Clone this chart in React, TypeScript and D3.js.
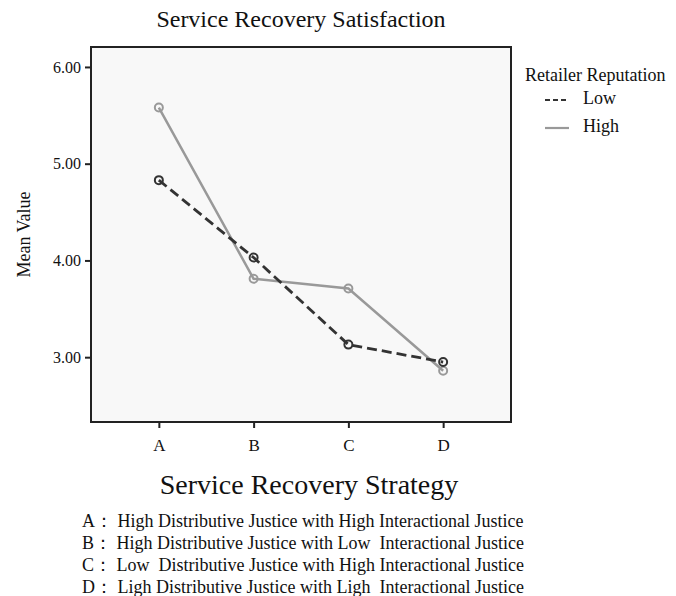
import React, { useEffect, useRef } from "react";
import * as d3 from "d3";

const strategies = ["A", "B", "C", "D"];
const lowValues = [4.83, 4.03, 3.13, 2.95];
const highValues = [5.58, 3.81, 3.71, 2.86];
const yTicks = [3, 4, 5, 6];
const notes = [
  "A\uff1a High Distributive Justice with High Interactional Justice",
  "B\uff1a High Distributive Justice with Low  Interactional Justice",
  "C\uff1a Low  Distributive Justice with High Interactional Justice",
  "D\uff1a Ligh Distributive Justice with Ligh  Interactional Justice",
];

export default function App() {
  const ref = useRef<SVGSVGElement>(null);

  useEffect(() => {
    const width = 676;
    const height = 596;
    const box = { left: 91, right: 511, top: 47, bottom: 422 };
    const font = "'Liberation Serif', 'Times New Roman', serif";

    const svg = d3.select(ref.current);
    svg.selectAll("*").remove();
    svg.attr("width", width).attr("height", height).style("font-family", font);

    svg.append("rect").attr("width", width).attr("height", height).attr("fill", "#fff");

    const x = d3
      .scalePoint<string>()
      .domain(strategies)
      .range([box.left, box.right])
      .padding(0.716);

    const y = d3.scaleLinear().domain([6 + 20 / 97, 2.33]).range([box.top, box.bottom]);

    svg
      .append("text")
      .attr("x", 301)
      .attr("y", 27)
      .attr("text-anchor", "middle")
      .attr("font-size", 24)
      .attr("fill", "#111")
      .text("Service Recovery Satisfaction");

    svg
      .append("rect")
      .attr("x", box.left)
      .attr("y", box.top)
      .attr("width", box.right - box.left)
      .attr("height", box.bottom - box.top)
      .attr("fill", "#f8f8f8")
      .attr("stroke", "#222")
      .attr("stroke-width", 2);

    const yAxis = svg
      .append("g")
      .attr("transform", `translate(${box.left},0)`)
      .call(d3.axisLeft(y).tickValues(yTicks).tickFormat(d3.format(".2f")).tickSize(6).tickPadding(4));
    yAxis.select(".domain").remove();
    yAxis.selectAll("line").attr("stroke", "#222").attr("stroke-width", 2);
    yAxis.selectAll("text").attr("font-size", 16).attr("font-family", font).attr("fill", "#111");

    const xAxis = svg
      .append("g")
      .attr("transform", `translate(0,${box.bottom})`)
      .call(d3.axisBottom(x).tickSize(6).tickPadding(11));
    xAxis.select(".domain").remove();
    xAxis.selectAll("line").attr("stroke", "#222").attr("stroke-width", 2);
    xAxis.selectAll("text").attr("font-size", 17).attr("font-family", font).attr("fill", "#111");

    svg
      .append("text")
      .attr("transform", `translate(30,${(box.top + box.bottom) / 2}) rotate(-90)`)
      .attr("text-anchor", "middle")
      .attr("font-size", 18)
      .attr("fill", "#111")
      .text("Mean Value");

    svg
      .append("text")
      .attr("x", 309)
      .attr("y", 494)
      .attr("text-anchor", "middle")
      .attr("font-size", 28)
      .attr("fill", "#111")
      .text("Service Recovery Strategy");

    const line = d3
      .line<number>()
      .x((_, i) => x(strategies[i]) as number)
      .y((d) => y(d));

    const series = [
      { values: highValues, color: "#999", dash: null, width: 2.5 },
      { values: lowValues, color: "#333", dash: "10,5", width: 2.8 },
    ];

    series.forEach((s) => {
      svg
        .append("path")
        .datum(s.values)
        .attr("d", line)
        .attr("fill", "none")
        .attr("stroke", s.color)
        .attr("stroke-width", s.width)
        .attr("stroke-dasharray", s.dash);
      svg
        .append("g")
        .selectAll("circle")
        .data(s.values)
        .join("circle")
        .attr("cx", (_, i) => x(strategies[i]) as number)
        .attr("cy", (d) => y(d))
        .attr("r", 4)
        .attr("fill", "none")
        .attr("stroke", s.color)
        .attr("stroke-width", 2);
    });

    const legend = svg.append("g").attr("transform", "translate(525,0)");
    legend
      .append("text")
      .attr("x", 0)
      .attr("y", 81)
      .attr("font-size", 18)
      .attr("fill", "#111")
      .text("Retailer Reputation");
    const items = [
      { label: "Low", color: "#333", dash: "5,3", y: 100 },
      { label: "High", color: "#999", dash: null, y: 128 },
    ];
    items.forEach((it) => {
      legend
        .append("line")
        .attr("x1", 20)
        .attr("x2", 44)
        .attr("y1", it.y)
        .attr("y2", it.y)
        .attr("stroke", it.color)
        .attr("stroke-width", 2.2)
        .attr("stroke-dasharray", it.dash);
      legend
        .append("text")
        .attr("x", 58)
        .attr("y", it.y + 4)
        .attr("font-size", 18)
        .attr("fill", "#111")
        .text(it.label);
    });

    svg
      .append("g")
      .selectAll("text")
      .data(notes)
      .join("text")
      .attr("x", 82)
      .attr("y", (_, i) => 527 + i * 22)
      .attr("font-size", 18)
      .attr("fill", "#111")
      .style("white-space", "pre")
      .text((d) => d);
  }, []);

  return (
    <svg
      ref={ref}
      style={{ display: "block", position: "absolute", left: 0, top: 0 }}
    />
  );
}
